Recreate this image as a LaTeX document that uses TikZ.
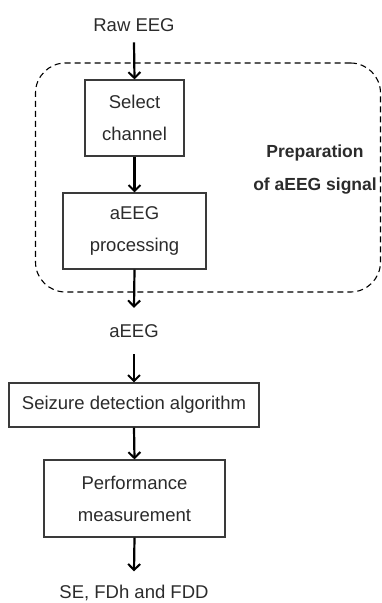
\documentclass[tikz,border=0pt]{standalone}
\usepackage{fontspec}
\setmainfont{Liberation Sans}
\usetikzlibrary{arrows.meta}
\definecolor{ink}{HTML}{2B2B2B}
\definecolor{frame}{HTML}{3A3A3A}
\tikzset{
  stepbox/.style={draw=frame, line width=1.1pt, align=center, text=ink,
    font=\fontsize{18.5}{32}\selectfont, inner sep=0pt},
  label/.style={text=ink, font=\fontsize{18.5}{32}\selectfont, inner sep=0pt, align=center},
  flow/.style={line width=2.2pt, black,
    -{Straight Barb[length=6pt,width=12pt,line width=2pt]}},
  groupbox/.style={draw=black, line width=1.1pt, dash pattern=on 6pt off 4pt,
    rounded corners=30pt}
}
\begin{document}
\begin{tikzpicture}[x=1pt,y=-1pt]
\useasboundingbox (0,0) rectangle (382,603);

% dashed group around the signal preparation steps
\node[groupbox, minimum width=345pt, minimum height=229pt] (grp) at (208,177.5) {};
\node[label, font=\fontsize{17.5}{33}\selectfont\bfseries] (prep) at (315,170)
  {Preparation\\of aEEG signal};

% flow nodes
\node[label, anchor=base] (raw) at (134,31) {Raw EEG};
\node[stepbox, minimum width=99pt, minimum height=76pt] (sel) at (134.5,118) {Select\\channel};
\node[stepbox, minimum width=143pt, minimum height=76pt] (proc) at (134.5,231) {aEEG\\processing};
\node[label, anchor=base] (aeeg) at (134,337) {aEEG};
\node[stepbox, minimum width=250pt, minimum height=44pt] (seiz) at (134,405) {Seizure detection algorithm};
\node[stepbox, minimum width=181pt, minimum height=77pt] (perf) at (134.5,498.5) {Performance\\measurement};
\node[label, anchor=base] (out) at (134,598) {SE, FDh and FDD};

% connectors
\draw[flow] ([yshift=-11pt]raw.south) -- (sel.north);
\draw[flow] (sel.south) -- (proc.north);
\draw[flow] (proc.south) -- ([yshift=16pt]aeeg.north);
\draw[flow] ([yshift=-17pt]aeeg.south) -- (seiz.north);
\draw[flow] (seiz.south) -- (perf.north);
\draw[flow] (perf.south) -- ([yshift=13pt]out.north);
\end{tikzpicture}
\end{document}
